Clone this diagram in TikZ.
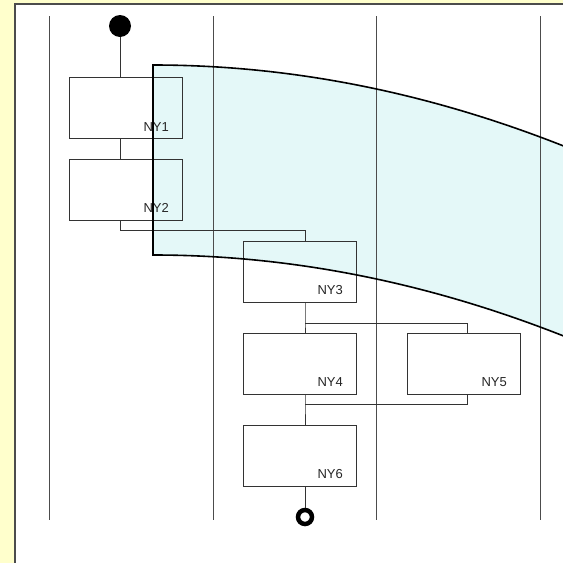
\documentclass[tikz,border=0pt]{standalone}
\usepackage{fontspec}
\setmainfont{Liberation Sans}
\definecolor{swim}{RGB}{228,248,248}
\definecolor{bgy}{RGB}{255,255,204}
\begin{document}
\begin{tikzpicture}[x=1pt,y=-1pt,
  lane/.style={draw=black!70,line width=1pt},
  conn/.style={draw=black!80,line width=0.9pt},
  actbox/.style={draw=black!80,line width=0.9pt,minimum width=113pt,minimum height=61pt,inner sep=0pt},
  lbl/.style={font=\fontsize{13}{15}\selectfont,text=black!85,anchor=base east,inner sep=0pt}]
\useasboundingbox (0,0) rectangle (563,563);
\fill[bgy] (0,0) rectangle (563,563);
\fill[white] (15,4) rectangle (570,570);
\draw[black!70,line width=1.5pt] (15,570) -- (15,4) -- (570,4);
\begin{scope}
\clip (15,4) rectangle (563,563);
\fill[swim] (153,65) .. controls (302,65) and (451,97) .. (600,161)
  -- (600,351) .. controls (451,287) and (302,255) .. (153,255) -- cycle;
\end{scope}
% lanes
\foreach \x/\n in {49/a,213/b,376/c,540/d}{
  \coordinate (lt\n) at (\x,16);
  \coordinate (lb\n) at (\x,520);
  \draw[lane] (lt\n) -- (lb\n);
}
% start/end
\node[circle,fill=black,minimum size=22pt,inner sep=0pt] (start) at (120,26) {};
\node[circle,draw=black,line width=4.5pt,minimum size=14pt,inner sep=0pt] (end) at (305,517) {};
% boxes
\node[actbox] (ny1) at (125.5,108) {};
\node[actbox] (ny2) at (125.5,189.5) {};
\node[actbox] (ny3) at (299.5,271.5) {};
\node[actbox] (ny4) at (299.5,363.5) {};
\node[actbox] (ny5) at (463.5,363.5) {};
\node[actbox] (ny6) at (299.5,455.5) {};
\node[lbl] (t1) at (169,131) {NY1};
\node[lbl] (t2) at (169,212) {NY2};
\node[lbl] (t3) at (343,294) {NY3};
\node[lbl] (t4) at (343,386) {NY4};
\node[lbl] (t5) at (507,386) {NY5};
\node[lbl] (t6) at (343,478) {NY6};
% connectors
\draw[conn] (start) -- (start |- ny1.north);
\draw[conn] (start |- ny1.south) -- (start |- ny2.north);
\coordinate (j1) at (120,230);
\coordinate (j2) at (305,230);
\draw[conn] (start |- ny2.south) -- (j1) -- (j2) -- (j2 |- ny3.north);
\coordinate (f1) at (305,323);
\coordinate (f2) at (467,323);
\draw[conn] (f1 |- ny3.south) -- (f1) -- (f1 |- ny4.north);
\draw[conn] (f1) -- (f2) -- (f2 |- ny5.north);
\coordinate (g1) at (305,404);
\coordinate (g2) at (467,404);
\draw[conn] (g1 |- ny4.south) -- (g1) -- (g1 |- ny6.north);
\draw[conn] (g1) -- (g2) -- (g2 |- ny5.south);
\draw[conn] (g1 |- ny6.south) -- (end);
% cyan border
\begin{scope}
\clip (15,4) rectangle (563,563);
\draw[black,line width=1.6pt] (600,161) .. controls (451,97) and (302,65) .. (153,65)
  -- (153,255) .. controls (302,255) and (451,287) .. (600,351);
\end{scope}
\end{tikzpicture}
\end{document}
